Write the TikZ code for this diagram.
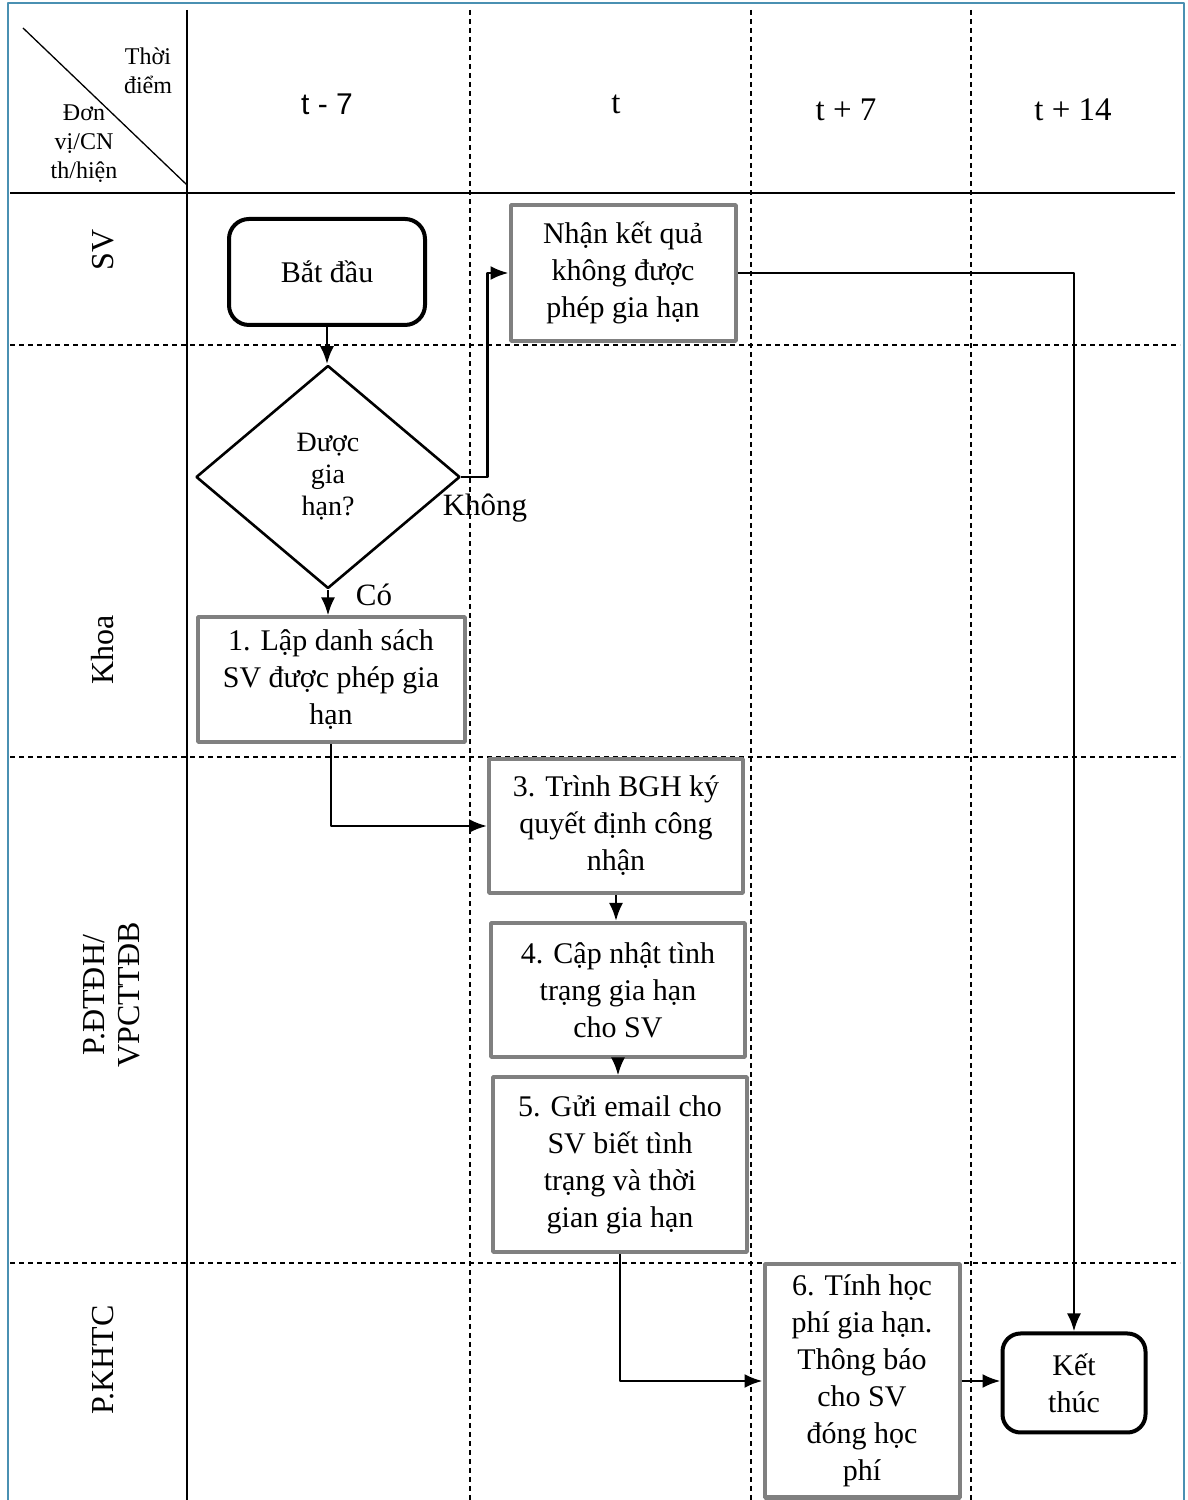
\documentclass[tikz,border=0pt]{standalone}
\usepackage{fontspec}
\setmainfont{Liberation Serif}
\newfontfamily\headsans{Liberation Sans}
\usetikzlibrary{shapes.geometric,arrows.meta}
\definecolor{boxgray}{RGB}{128,128,128}
\definecolor{framecol}{RGB}{74,144,178}
\begin{document}
\begin{tikzpicture}[line join=bevel,
  lane/.style={dash pattern=on 5bp off 4bp, line width=1.2bp},
  stepbox/.style={draw=boxgray, line width=4bp, align=center, inner sep=0bp, font=\fontsize{30bp}{37bp}\selectfont},
  termbox/.style={draw, line width=4bp, rounded corners=20bp, align=center, inner sep=0bp, font=\fontsize{30bp}{37bp}\selectfont},
  decbox/.style={draw, diamond, line width=2.6bp, align=center, inner sep=0bp, font=\fontsize{28bp}{32bp}\selectfont},
  flow/.style={-{Latex[length=18bp,width=14bp]}, line width=2.6bp},
  lbl/.style={font=\fontsize{31bp}{34bp}\selectfont, inner sep=0bp},
  lanename/.style={rotate=90, align=center, font=\fontsize{32bp}{35bp}\selectfont},
  headtxt/.style={align=center, font=\fontsize{24bp}{29bp}\selectfont},
  timetxt/.style={font=\fontsize{33bp}{36bp}\selectfont},
  ]
  \useasboundingbox (0bp,0bp) rectangle (1188bp,1500bp);
  \pgfsetlinewidth{1bp}
%%
  % Frame
  \draw [framecol, line width=2bp] (8bp,0bp) -- (8bp,1497bp) -- (1184bp,1497bp) -- (1184bp,0bp);
  % Grid
  \draw [line width=1.3bp] (10bp,1307bp) -- (1175bp,1307bp);
  \draw [line width=1.3bp] (187bp,1490bp) -- (187bp,0bp);
  \draw [line width=1.3bp] (23bp,1472bp) -- (187bp,1315bp);
  \draw [lane] (470bp,1490bp) -- (470bp,0bp);
  \draw [lane] (751bp,1490bp) -- (751bp,0bp);
  \draw [lane] (971bp,1490bp) -- (971bp,0bp);
  \draw [lane] (10bp,1155bp) -- (1180bp,1155bp);
  \draw [lane] (10bp,743bp) -- (1180bp,743bp);
  \draw [lane] (10bp,237bp) -- (1180bp,237bp);
  % Header
  \node [headtxt] (thoidiem) at (148bp,1429bp) {Thời\\điểm};
  \node [headtxt] (donvi) at (84bp,1356bp) {Đơn\\vị/CN\\th/hiện};
  \node [timetxt, font=\headsans\fontsize{30bp}{34bp}\selectfont] (tm7) at (327bp,1396bp) {t - 7};
  \node [timetxt] (t0) at (616bp,1396bp) {t};
  \node [timetxt] (tp7) at (846bp,1390bp) {t + 7};
  \node [timetxt] (tp14) at (1073bp,1390bp) {t + 14};
  % Lanes
  \node [lanename] (sv) at (103bp,1250bp) {SV};
  \node [lanename] (khoa) at (103bp,850bp) {Khoa};
  \node [lanename] (pdtdh) at (112bp,505bp) {P.ĐTĐH/\\VPCTTĐB};
  \node [lanename] (pkhtc) at (103bp,140bp) {P.KHTC};
  % Node: start
  \node [termbox, minimum width=196bp, minimum height=106bp] (start) at (327bp,1228bp) {Bắt đầu};
  % Node: dec
  \node [decbox, minimum width=264bp, minimum height=223bp] (dec) at (328bp,1023bp) {Được\\gia\\hạn?};
  % Node: box1
  \node [stepbox, minimum width=267bp, minimum height=125bp] (box1) at (331bp,820bp) {1. Lập danh sách\\SV được phép gia\\hạn};
  % Node: nhan
  \node [stepbox, minimum width=225bp, minimum height=136bp] (nhan) at (623bp,1227bp) {Nhận kết quả\\không được\\phép gia hạn};
  % Node: box3
  \node [stepbox, minimum width=254bp, minimum height=134bp] (box3) at (616bp,674bp) {3. Trình BGH ký\\quyết định công\\nhận};
  % Node: box4
  \node [stepbox, minimum width=254bp, minimum height=134bp] (box4) at (618bp,510bp) {4. Cập nhật tình\\trạng gia hạn\\cho SV};
  % Node: box5
  \node [stepbox, minimum width=254bp, minimum height=175bp] (box5) at (620bp,335bp) {5. Gửi email cho\\SV biết tình\\trạng và thời\\gian gia hạn};
  % Node: box6
  \node [stepbox, minimum width=195bp, minimum height=233bp] (box6) at (862bp,119bp) {6. Tính học\\phí gia hạn.\\Thông báo\\cho SV\\đóng học\\phí};
  % Node: end
  \node [termbox, rounded corners=18bp, minimum width=143bp, minimum height=99bp] (end) at (1074bp,117bp) {Kết\\thúc};
  % Edge: start -> dec
  \draw [flow] (start.south) -- (start.south |- dec.north);
  % Edge: dec -> box1
  \draw [flow] (dec.south) -- (dec.south |- box1.north);
  \node [lbl] (co) at (374bp,905bp) {Có};
  % Edge: dec -> nhan
  \draw [flow] (dec.east) -- ++(26bp,0bp) |- (nhan.west);
  \node [lbl] (khong) at (485bp,992bp) {Không};
  % Edge: nhan -> end
  \draw [flow] (nhan.east) -| (end.north);
  % Edge: box1 -> box3
  \draw [flow] (box1.south) |- (box3.west);
  % Edge: box3 -> box4
  \draw [flow] (box3.south) -- (box3.south |- box4.north);
  % Edge: box4 -> box5
  \draw [flow] (box4.south) -- (box4.south |- box5.north);
  % Edge: box5 -> box6
  \draw [flow] (box5.south) |- (box6.west);
  % Edge: box6 -> end
  \draw [flow] (box6.east) -- (box6.east -| end.west);
%
\end{tikzpicture}
\end{document}
